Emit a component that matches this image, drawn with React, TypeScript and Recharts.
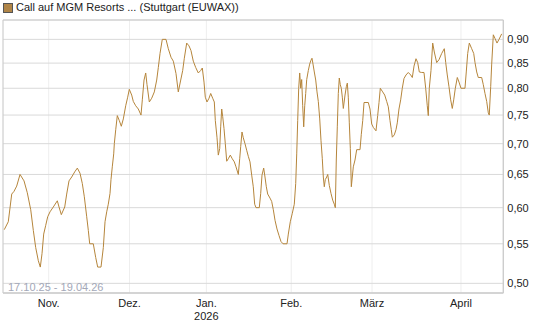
import React from 'react';
import { LineChart, Line, XAxis, YAxis, CartesianGrid, ReferenceArea } from 'recharts';

// trading-day offset from 17.10.25 (fractions = intraday quotes)
const days = [0,1,1.85,2.41,3.08,3.9,4.89,5.7,6.55,7.19,7.78,8.43,8.92,9.34,9.76,10.26,10.75,11.32,12.14,13.13,13.55,14.12,14.96,15.45,16.02,16.69,17.43,18.08,18.74,19.31,19.81,20.4,20.8,21.14,22.03,22.63,23.12,23.94,24.51,24.93,25.35,25.74,26.17,26.41,26.73,27.08,27.23,27.58,27.97,28.47,28.96,29.46,30.05,30.54,30.94,31.53,31.93,32.52,33.17,33.83,34.16,34.58,35.0,35.32,35.89,36.48,37.13,37.72,38.12,38.54,39.1,40.02,40.59,41.26,41.83,42.49,43.06,43.66,44.15,44.55,45.14,45.71,46.2,46.77,47.37,48.01,48.6,49.0,49.42,49.74,50.16,50.66,51.08,51.57,51.97,52.22,52.64,52.96,53.31,53.55,53.8,54.05,54.37,54.69,55.04,55.43,55.93,56.42,56.92,57.34,57.91,58.25,58.5,58.82,59.14,59.56,59.98,60.38,60.8,61.22,61.61,61.96,62.29,63.1,63.45,63.77,64.19,64.51,64.84,65.18,65.75,66.17,66.57,66.99,67.48,67.98,68.47,68.97,69.96,70.28,70.77,71.27,71.76,72.11,72.36,72.6,72.85,73.1,73.35,73.59,73.84,74.09,74.34,74.58,74.83,75.23,75.57,75.89,76.14,76.39,76.71,77.06,77.38,77.7,78.05,78.37,78.69,78.94,79.18,79.43,79.78,80.03,80.42,80.84,81.26,81.66,81.91,82.15,82.4,82.65,82.89,83.14,83.39,83.64,83.89,84.31,84.63,84.88,85.12,85.37,85.62,85.87,86.11,86.36,86.78,87.2,88.02,88.34,88.69,89.01,90.07,90.49,90.91,91.31,91.97,92.39,92.72,93.04,93.63,94.13,94.62,95.02,95.44,95.76,96.01,96.5,96.92,97.24,97.66,98.08,98.48,98.9,99.4,99.96,100.56,100.96,101.38,101.87,102.29,102.69,103.28,103.85,104.27,104.66,104.91,105.16,105.58,106.0,106.4,106.99,107.56,108.23,108.87,109.22,109.61,110.03,110.45,110.85,111.2,111.6,112.09,112.51,113.0,113.99,114.31,114.66,115.06,115.65,116.15,116.47,116.89,117.28,118.12,118.52,118.94,119.36,119.76,120.0,120.35,120.6,121.0,121.42,121.91,122.41,123.07];

const prices = [0.569,0.58,0.62,0.624,0.632,0.65,0.64,0.622,0.597,0.568,0.545,0.528,0.52,0.537,0.563,0.575,0.587,0.594,0.601,0.61,0.601,0.59,0.601,0.62,0.64,0.646,0.654,0.66,0.652,0.636,0.616,0.587,0.568,0.55,0.55,0.532,0.52,0.52,0.545,0.58,0.594,0.605,0.621,0.642,0.662,0.683,0.70,0.724,0.749,0.74,0.73,0.743,0.767,0.783,0.798,0.787,0.775,0.767,0.761,0.75,0.778,0.816,0.83,0.807,0.774,0.781,0.793,0.816,0.841,0.87,0.90,0.90,0.88,0.862,0.854,0.829,0.793,0.816,0.835,0.86,0.892,0.886,0.876,0.854,0.841,0.83,0.835,0.84,0.812,0.783,0.774,0.781,0.79,0.781,0.774,0.74,0.71,0.681,0.692,0.729,0.761,0.747,0.726,0.70,0.671,0.675,0.681,0.675,0.67,0.662,0.65,0.675,0.695,0.72,0.71,0.70,0.689,0.679,0.67,0.649,0.631,0.605,0.60,0.60,0.621,0.649,0.66,0.646,0.631,0.62,0.614,0.609,0.597,0.582,0.57,0.561,0.553,0.55,0.55,0.563,0.58,0.592,0.605,0.636,0.683,0.74,0.80,0.83,0.80,0.817,0.767,0.729,0.767,0.79,0.817,0.835,0.848,0.856,0.86,0.848,0.832,0.816,0.793,0.775,0.743,0.705,0.675,0.646,0.631,0.642,0.646,0.65,0.633,0.621,0.611,0.605,0.60,0.673,0.729,0.79,0.82,0.807,0.80,0.783,0.762,0.787,0.803,0.81,0.783,0.736,0.692,0.631,0.646,0.662,0.673,0.69,0.69,0.716,0.74,0.773,0.773,0.761,0.734,0.728,0.722,0.749,0.773,0.80,0.793,0.787,0.775,0.765,0.74,0.724,0.711,0.715,0.724,0.736,0.761,0.778,0.80,0.819,0.826,0.831,0.826,0.821,0.844,0.859,0.851,0.832,0.831,0.831,0.80,0.767,0.749,0.80,0.835,0.892,0.873,0.851,0.857,0.87,0.88,0.851,0.826,0.803,0.778,0.762,0.778,0.80,0.821,0.812,0.80,0.80,0.832,0.87,0.892,0.88,0.87,0.851,0.832,0.821,0.821,0.807,0.79,0.775,0.754,0.75,0.803,0.848,0.91,0.902,0.892,0.90,0.912];

const monthTicks = [11, 31, 50, 71, 91, 113];
const monthLabels = ['Nov.', 'Dez.', 'Jan.', 'Feb.', 'März', 'April'];
const yearLabels = ['', '', '2026', '', '', ''];
const priceTicks = [0.5, 0.55, 0.6, 0.65, 0.7, 0.75, 0.8, 0.85, 0.9];
const xDomain = [-0.31, 123.47];
const yDomain = [0.4885, 0.943];
const title = 'Call auf MGM Resorts ... (Stuttgart (EUWAX))';
const rangeLabel = '17.10.25 - 19.04.26';

const data = days.map((d, i) => ({ day: d, price: prices[i] }));

const FONT = '"Liberation Sans", Arial, sans-serif';
const LINE_COLOR = '#b5853b';

const MonthTick = (props: any) => {
  const { x, y, payload } = props;
  const i = monthTicks.indexOf(payload.value);
  return (
    <g>
      <text x={x} y={y + 14} textAnchor="middle" fontSize={11} fill="#222" fontFamily={FONT}>
        {monthLabels[i]}
      </text>
      {yearLabels[i] ? (
        <text x={x} y={y + 27} textAnchor="middle" fontSize={11} fill="#222" fontFamily={FONT}>
          {yearLabels[i]}
        </text>
      ) : null}
    </g>
  );
};

export default function App() {
  return (
    <div style={{ position: 'absolute', left: 0, top: 0, width: 545, height: 327, background: '#fff' }}>
      <LineChart width={545} height={327} data={data} margin={{ top: 20, right: 0, bottom: 0, left: 3 }}>
        <CartesianGrid horizontal={false} stroke="#eeeeee" />
        <CartesianGrid vertical={false} stroke="#d9d9d9" />
        <XAxis
          dataKey="day"
          type="number"
          domain={xDomain}
          ticks={monthTicks}
          allowDataOverflow
          height={34}
          tickLine={false}
          tickSize={0}
          tickMargin={0}
          axisLine={{ stroke: '#cccccc' }}
          tick={<MonthTick />}
          interval={0}
        />
        <YAxis
          orientation="right"
          scale="log"
          domain={yDomain}
          ticks={priceTicks}
          allowDataOverflow
          width={41.7}
          tickLine={false}
          tickSize={2}
          tickMargin={2}
          axisLine={{ stroke: '#cccccc' }}
          tick={{ fontSize: 11, fill: '#222', fontFamily: FONT, textAnchor: 'start' }}
          tickFormatter={(v: number) => v.toFixed(2).replace('.', ',')}
          interval={0}
        />
        <ReferenceArea
          x1={xDomain[0]}
          x2={xDomain[1]}
          y1={yDomain[0]}
          y2={yDomain[1]}
          fill="none"
          stroke="#cccccc"
          ifOverflow="visible"
        />
        <Line
          type="linear"
          dataKey="price"
          stroke={LINE_COLOR}
          strokeWidth={1}
          dot={false}
          isAnimationActive={false}
        />
      </LineChart>
      <div
        style={{
          position: 'absolute',
          left: 3,
          top: 3,
          width: 8,
          height: 8,
          background: '#b08548',
          border: '1px solid #555',
        }}
      />
      <div
        style={{
          position: 'absolute',
          left: 16,
          top: 1,
          fontSize: 11,
          lineHeight: '13px',
          fontFamily: FONT,
          color: '#222',
          whiteSpace: 'nowrap',
        }}
      >
        {title}
      </div>
      <div
        style={{
          position: 'absolute',
          left: 8,
          top: 281,
          fontSize: 11,
          lineHeight: '13px',
          fontFamily: FONT,
          color: '#a3a8b8',
          whiteSpace: 'nowrap',
        }}
      >
        {rangeLabel}
      </div>
    </div>
  );
}
